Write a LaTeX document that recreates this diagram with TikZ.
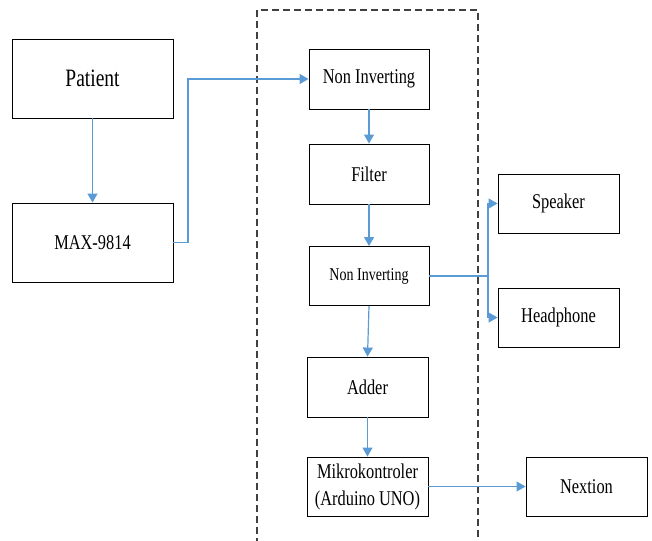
\documentclass[tikz,border=0pt]{standalone}
\usepackage{fontspec}
\setmainfont[FakeStretch=0.78]{Liberation Serif}
\usetikzlibrary{arrows.meta}
\definecolor{linkblue}{HTML}{5B9BD5}
\definecolor{dashgray}{HTML}{404040}
\tikzset{
  blockbox/.style={draw=black, line width=0.9pt, fill=white, inner sep=0pt, align=center,
    font=\fontsize{21}{27}\selectfont},
  link/.style={draw=linkblue, line width=1.2pt, -{Triangle[length=9pt,width=10pt]}},
  plainlink/.style={draw=linkblue, line width=1.2pt},
  frame/.style={draw=dashgray, line width=1.1pt, dash pattern=on 7pt off 4pt}
}
\begin{document}
\begin{tikzpicture}[x=1pt,y=-1pt]
\useasboundingbox (0,0) rectangle (652,540);
\draw[frame] (257,545) -- (257,10) -- (478,10) -- (478,545);
\node[blockbox, minimum width=161pt, minimum height=79pt, font=\fontsize{25}{28}\selectfont] (patient) at (92.5,78.5) {Patient};
\node[blockbox, minimum width=161pt, minimum height=79pt] (max) at (92.5,242.5) {MAX-9814};
\node[blockbox, minimum width=120pt, minimum height=60pt] (ni1) at (369,79) {Non Inverting};
\node[blockbox, minimum width=120pt, minimum height=60pt] (filter) at (369,174) {Filter};
\node[blockbox, minimum width=120pt, minimum height=59pt, font=\fontsize{18}{21}\selectfont] (ni2) at (369,276) {Non Inverting};
\node[blockbox, minimum width=121pt, minimum height=59pt] (speaker) at (558.5,203.5) {Speaker};
\node[blockbox, minimum width=121pt, minimum height=59pt] (headphone) at (558.5,317.5) {Headphone};
\node[blockbox, minimum width=121pt, minimum height=60pt] (adder) at (367.5,387) {Adder};
\node[blockbox, minimum width=121pt, minimum height=59pt] (mikro) at (367.5,486.5) {Mikrokontroler\\(Arduino UNO)};
\node[blockbox, minimum width=121pt, minimum height=59pt] (nextion) at (586.5,486.5) {Nextion};
\coordinate (bend) at (188,242.5);
\coordinate (branch) at (488,276);
\draw[link] (patient.south) -- (max.north);
\draw[link] (max.east) -- (bend) |- (ni1.west);
\draw[link] (ni1.south) -- (filter.north);
\draw[link] (filter.south) -- (ni2.north);
\draw[plainlink] (ni2.east) -- (branch);
\draw[link] (branch) |- (speaker.west);
\draw[link] (branch) |- (headphone.west);
\draw[link] (ni2.south) -- (adder.north);
\draw[link] (adder.south) -- (mikro.north);
\draw[link] (mikro.east) -- (nextion.west);
\end{tikzpicture}
\end{document}
